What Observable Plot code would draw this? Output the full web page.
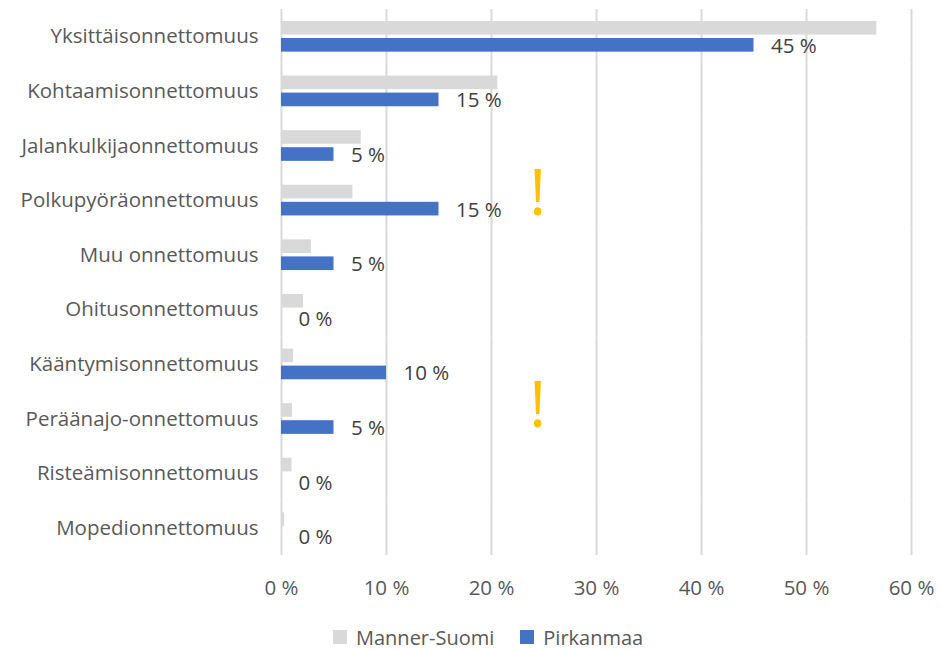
<!DOCTYPE html>
<html>
<head>
<meta charset="utf-8">
<script src="https://cdn.jsdelivr.net/npm/d3@7"></script>
<script src="https://cdn.jsdelivr.net/npm/@observablehq/plot@0.6"></script>
<style>
  body { margin: 0; background: #fff; font-family: "Open Sans", sans-serif; }
  #legend { display: flex; align-items: center; padding-left: 333px; margin-top: 15px; font-size: 20px; color: #595959; height: 24px; }
  #legend .sw { width: 14px; height: 14px; display: inline-block; margin-right: 9px; }
  #legend .item { display: flex; align-items: center; margin-right: 26px; }
</style>
</head>
<body>
<div id="chart"></div>
<script>
const categories = ["Yksittäisonnettomuus","Kohtaamisonnettomuus","Jalankulkijaonnettomuus","Polkupyöräonnettomuus","Muu onnettomuus","Ohitusonnettomuus","Kääntymisonnettomuus","Peräänajo-onnettomuus","Risteämisonnettomuus","Mopedionnettomuus"];
const seriesNames = ["Manner-Suomi", "Pirkanmaa"];
const mannerSuomi = [56.7, 20.6, 7.6, 6.8, 2.85, 2.1, 1.15, 1.05, 1.0, 0.3];
const pirkanmaa = [45, 15, 5, 15, 5, 0, 10, 5, 0, 0];
const xTicks = [0, 10, 20, 30, 40, 50, 60];
const colors = ["#D9D9D9", "#4472C4"];
const warnAt = ["Polkupyöräonnettomuus"];
const warnAt2 = ["Peräänajo-onnettomuus"];
const warnX = 24.4;

const rows = [];
categories.forEach((c, i) => {
  rows.push({cat: c, series: seriesNames[0], value: mannerSuomi[i]});
  rows.push({cat: c, series: seriesNames[1], value: pirkanmaa[i]});
});
const pirRows = rows.filter(d => d.series === seriesNames[1]);

const plot = Plot.plot({
  width: 942,
  height: 610,
  marginTop: 9,
  marginBottom: 55,
  marginLeft: 281,
  marginRight: 31,
  style: {fontFamily: "Open Sans, sans-serif", fontSize: "20px", color: "#595959", background: "#fff"},
  x: {domain: [0, 60], label: null},
  y: {domain: seriesNames, axis: null, paddingInner: 0.2, paddingOuter: 0.7, round: false},
  fy: {domain: categories, padding: 0, label: null, round: false},
  color: {domain: seriesNames, range: colors},
  marks: [
    Plot.gridX(xTicks, {stroke: "#D9D9D9", strokeOpacity: 1, strokeWidth: 2}),
    Plot.barX(rows, {x: "value", y: "series", fy: "cat", fill: "series"}),
    Plot.text(pirRows, {x: "value", y: "series", fy: "cat", text: d => d.value + " %", textAnchor: "start", dx: 17, dy: 1, fill: "#404040", fontSize: 20.5}),
    Plot.text(warnAt, {x: () => warnX, fy: d => d, text: () => "!", fill: "#FFC000", fontSize: 64, dy: -6, frameAnchor: "middle"}),
    Plot.text(warnAt2, {x: () => warnX, fy: d => d, text: () => "!", fill: "#FFC000", fontSize: 64, dy: -12, frameAnchor: "middle"}),
    Plot.axisX(xTicks, {tickSize: 0, tickPadding: 25, tickFormat: d => d + " %", label: null, fill: "#595959", fontSize: 20.5}),
    Plot.axisFy({anchor: "left", tickSize: 0, tickPadding: 23, label: null, fill: "#595959", fontSize: 20.5})
  ]
});
document.getElementById("chart").appendChild(plot);

const legend = document.createElement("div");
legend.id = "legend";
seriesNames.forEach((s, i) => {
  const it = document.createElement("span");
  it.className = "item";
  const sw = document.createElement("span");
  sw.className = "sw";
  sw.style.background = colors[i];
  it.appendChild(sw);
  it.appendChild(document.createTextNode(s));
  legend.appendChild(it);
});
document.body.appendChild(legend);
</script>
</body>
</html>
